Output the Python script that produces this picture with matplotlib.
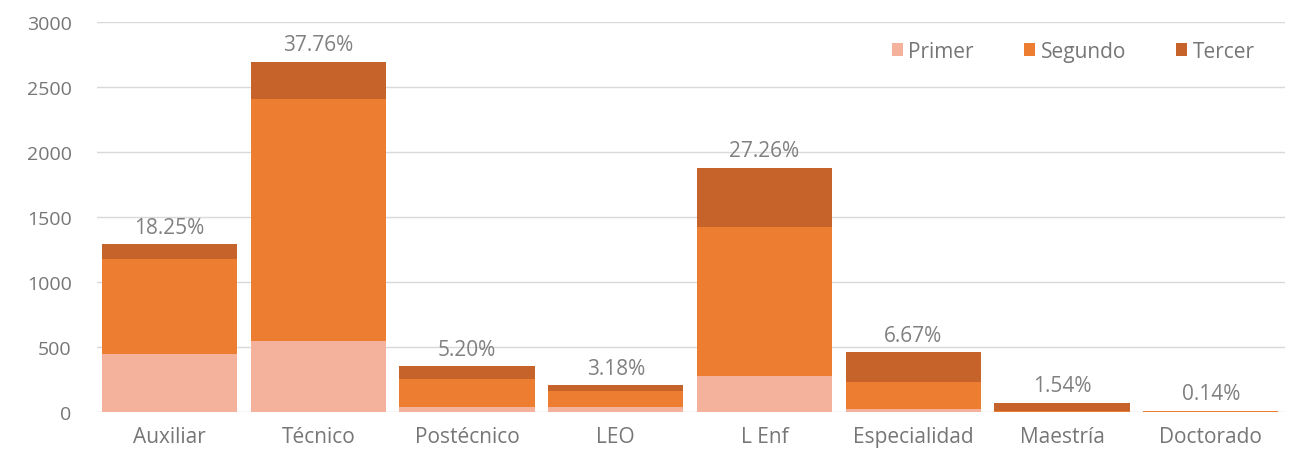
import matplotlib.pyplot as plt
import numpy as np

# data
categories = ['Auxiliar', 'Técnico', 'Postécnico', 'LEO', 'L Enf',
              'Especialidad', 'Maestría', 'Doctorado']
primer = [445, 545, 40, 35, 276, 20, 0, 0]
segundo = [729, 1865, 213, 126, 1151, 210, 10, 7]
tercer = [115, 284, 100, 46, 453, 230, 59, 2]
pct_labels = ['18.25%', '37.76%', '5.20%', '3.18%', '27.26%', '6.67%', '1.54%', '0.14%']

plt.rcParams['font.family'] = ['Open Sans', 'DejaVu Sans']

fig = plt.figure(figsize=(12.89, 4.64), dpi=100)
ax = fig.add_axes([0.075, 0.110, 0.922, 0.840])

x = np.arange(len(categories))
w = 0.91
c1, c2, c3 = '#F4B19B', '#ED7D31', '#C5632A'
ax.bar(x, primer, w, color=c1, label='Primer', zorder=3)
ax.bar(x, segundo, w, bottom=primer, color=c2, label='Segundo', zorder=3)
bot3 = np.array(primer) + np.array(segundo)
ax.bar(x, tercer, w, bottom=bot3, color=c3, label='Tercer', zorder=3)

# percentage label on top of each stack
totals = bot3 + np.array(tercer)
for xi, t, lab in zip(x, totals, pct_labels):
    ax.text(xi, t + 50, lab, ha='center', va='bottom', fontsize=15, color='#808080', zorder=4)

ax.set_xlim(-0.49, 7.5)
ax.set_ylim(0, 3000)
ax.set_yticks(range(0, 3001, 500))
ax.set_xticks(x)
ax.set_xticklabels(categories)
ax.tick_params(length=0, labelsize=15, colors='#767676', pad=10)
ax.tick_params(axis='y', labelsize=14, pad=18)
ax.grid(axis='y', color='#D9D9D9', linewidth=1, zorder=0)
for s in ax.spines.values():
    s.set_visible(False)

leg = ax.legend(loc='upper right', ncol=3, frameon=False, fontsize=15,
                handlelength=0.55, handleheight=0.55, handletextpad=0.25,
                columnspacing=2.4, bbox_to_anchor=(0.99, 1.0))
for t in leg.get_texts():
    t.set_color('#767676')

fig.savefig('out.png', dpi=100)
